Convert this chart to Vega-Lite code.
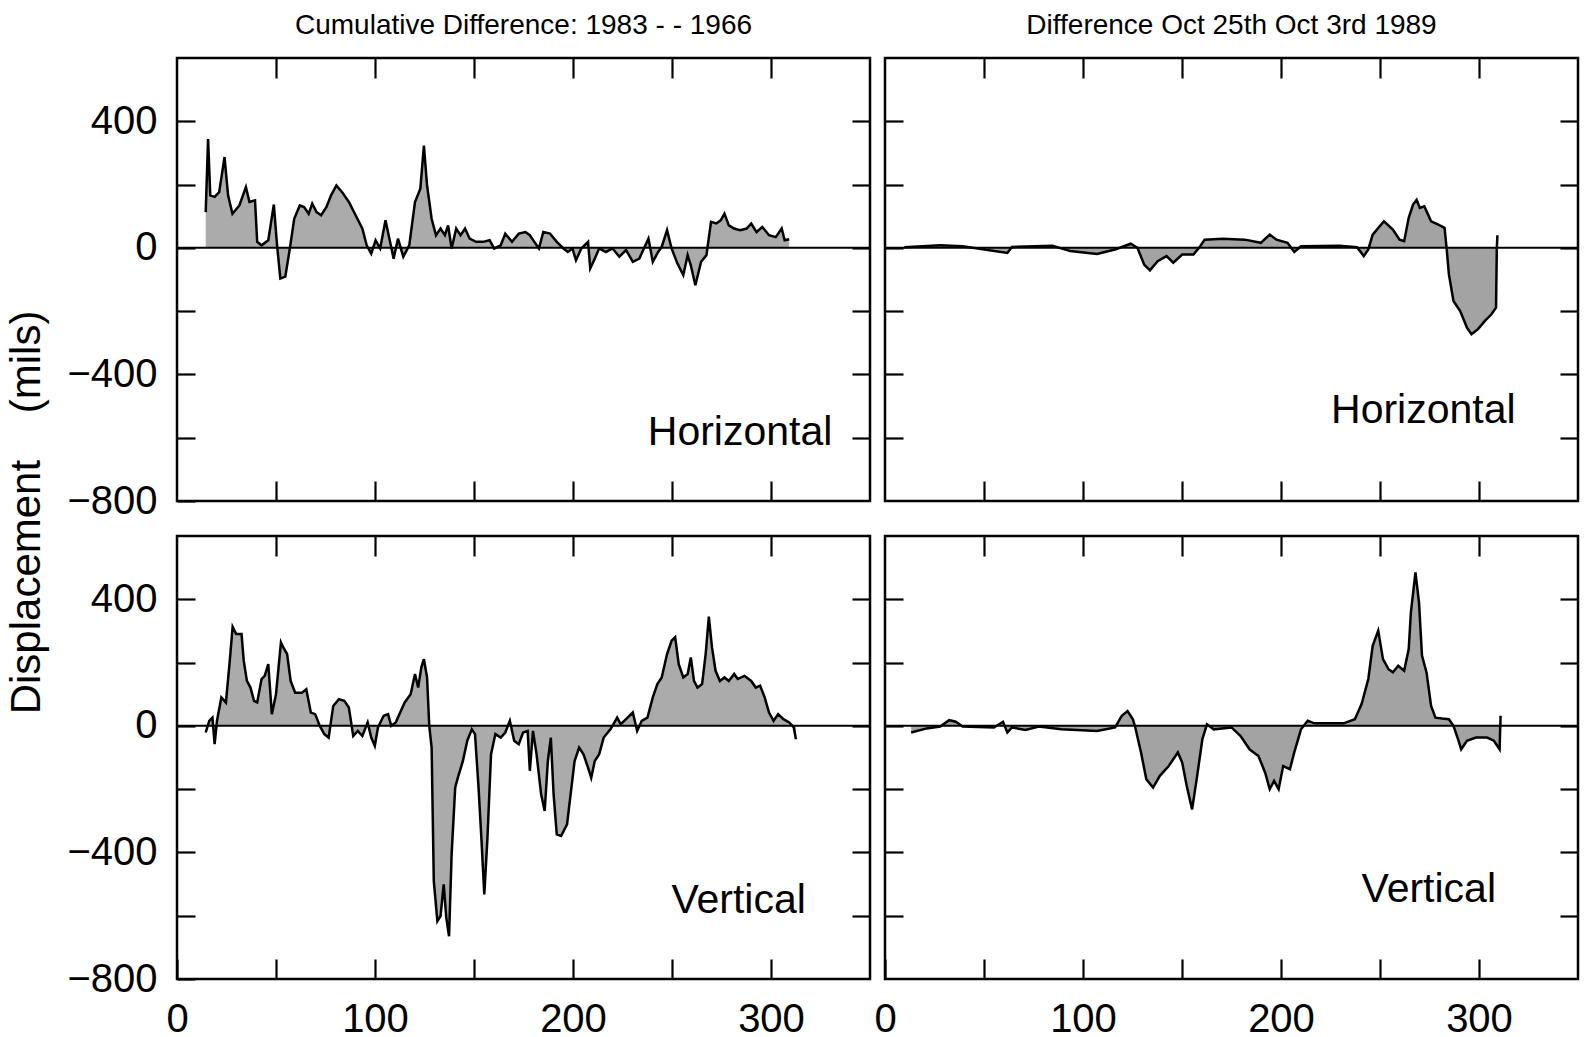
{
  "$schema": "https://vega.github.io/schema/vega-lite/v6.json",
  "background": "white",
  "padding": {"left": 5, "top": 10, "right": 5, "bottom": 2},
  "config": {
    "font": "Liberation Sans",
    "view": {"stroke": "black", "strokeWidth": 2.5},
    "axis": {"grid": false, "domain": false, "tickColor": "black", "tickWidth": 2.2, "labelFont": "Liberation Sans", "labelFontSize": 40, "labelColor": "black", "labelFlush": false, "labelOverlap": false, "labelBound": false, "title": null},
    "title": {"font": "Liberation Sans", "fontSize": 28, "fontWeight": "normal", "color": "black", "baseline": "bottom", "offset": 17}
  },
  "title": {"text": "Displacement\u00a0\u00a0\u00a0\u00a0(mils)", "orient": "left", "anchor": "middle", "fontSize": 42, "offset": 17, "dx": 13},
  "datasets": {
    "ch": [{"x":14.5,"v":113},{"x":15.7,"v":344},{"x":16.8,"v":166},{"x":19,"v":161},{"x":21.3,"v":176},{"x":24,"v":287},{"x":25.8,"v":166},{"x":28,"v":108},{"x":31.5,"v":134},{"x":34.8,"v":192},{"x":36.6,"v":145},{"x":39.4,"v":150},{"x":40.5,"v":19},{"x":42.7,"v":8},{"x":46.1,"v":24},{"x":48.9,"v":137},{"x":50.6,"v":3},{"x":52.2,"v":-97},{"x":54.7,"v":-91},{"x":57,"v":-2},{"x":59.2,"v":92},{"x":62,"v":134},{"x":64.2,"v":129},{"x":66.5,"v":108},{"x":68.3,"v":140},{"x":70.5,"v":113},{"x":72.8,"v":103},{"x":75.5,"v":129},{"x":77.8,"v":166},{"x":80.5,"v":197},{"x":83.4,"v":176},{"x":86.8,"v":145},{"x":90.2,"v":103},{"x":93.6,"v":61},{"x":95.8,"v":8},{"x":98.1,"v":-18},{"x":100.3,"v":24},{"x":102.6,"v":-2},{"x":105.3,"v":87},{"x":107.6,"v":19},{"x":109.4,"v":-34},{"x":111.6,"v":29},{"x":114.3,"v":-28},{"x":117.3,"v":8},{"x":120.2,"v":145},{"x":122.9,"v":187},{"x":124.7,"v":323},{"x":126.3,"v":197},{"x":128.6,"v":92},{"x":130.8,"v":40},{"x":133.1,"v":61},{"x":135.3,"v":40},{"x":136.9,"v":71},{"x":138.7,"v":-2},{"x":141,"v":61},{"x":143.2,"v":40},{"x":145.5,"v":61},{"x":147.8,"v":29},{"x":151.1,"v":19},{"x":154.5,"v":19},{"x":157.9,"v":24},{"x":160.2,"v":-2},{"x":163.5,"v":8},{"x":165.8,"v":45},{"x":169.2,"v":19},{"x":172.6,"v":45},{"x":176,"v":50},{"x":178.2,"v":40},{"x":180.5,"v":19},{"x":182.8,"v":-2},{"x":185,"v":50},{"x":188.4,"v":45},{"x":191.8,"v":19},{"x":195.2,"v":-2},{"x":197.4,"v":-13},{"x":199.7,"v":-2},{"x":201.5,"v":-39},{"x":204.2,"v":-2},{"x":207.6,"v":19},{"x":208.7,"v":-65},{"x":211,"v":-34},{"x":213.2,"v":-2},{"x":216.6,"v":-13},{"x":220,"v":-2},{"x":223.4,"v":-28},{"x":226.8,"v":-7},{"x":230.2,"v":-44},{"x":233.5,"v":-34},{"x":235.8,"v":-2},{"x":238.1,"v":29},{"x":240.3,"v":-44},{"x":243,"v":-13},{"x":244.8,"v":3},{"x":247.5,"v":56},{"x":249.8,"v":-2},{"x":252.7,"v":-49},{"x":255.7,"v":-86},{"x":257.9,"v":-23},{"x":259.5,"v":-55},{"x":261.8,"v":-118},{"x":264.7,"v":-44},{"x":267.4,"v":-23},{"x":269.7,"v":82},{"x":272.4,"v":77},{"x":274.6,"v":87},{"x":276.5,"v":108},{"x":278.7,"v":71},{"x":281.4,"v":61},{"x":284.4,"v":56},{"x":287.7,"v":61},{"x":290,"v":77},{"x":292.7,"v":50},{"x":295.6,"v":66},{"x":299,"v":40},{"x":302.4,"v":34},{"x":305.4,"v":61},{"x":306.9,"v":24},{"x":309.2,"v":27}],
    "cv": [{"x":14.5,"v":-21},{"x":16.3,"v":16},{"x":17.9,"v":26},{"x":19,"v":-58},{"x":20.2,"v":16},{"x":22.4,"v":90},{"x":24.7,"v":74},{"x":26.5,"v":195},{"x":28.1,"v":313},{"x":29.9,"v":290},{"x":32.6,"v":290},{"x":33.7,"v":206},{"x":35.3,"v":142},{"x":37.1,"v":121},{"x":38.9,"v":79},{"x":40.5,"v":74},{"x":42.7,"v":148},{"x":44.3,"v":158},{"x":46.1,"v":195},{"x":47.9,"v":37},{"x":50,"v":100},{"x":52.5,"v":264},{"x":54.1,"v":243},{"x":55.6,"v":227},{"x":57.4,"v":142},{"x":59.7,"v":105},{"x":63.1,"v":105},{"x":65.3,"v":116},{"x":67.6,"v":42},{"x":69.8,"v":37},{"x":72.1,"v":0},{"x":74.4,"v":-26},{"x":76.6,"v":-37},{"x":78.9,"v":63},{"x":81.8,"v":84},{"x":84.5,"v":79},{"x":86.8,"v":58},{"x":89,"v":-32},{"x":91.3,"v":-16},{"x":93.6,"v":-32},{"x":96.3,"v":11},{"x":98.1,"v":-37},{"x":99.9,"v":-63},{"x":101.5,"v":-5},{"x":104.4,"v":32},{"x":106.6,"v":37},{"x":108.2,"v":0},{"x":110.5,"v":11},{"x":112.7,"v":42},{"x":115,"v":74},{"x":118,"v":100},{"x":120.2,"v":164},{"x":121.8,"v":121},{"x":123.4,"v":185},{"x":124.7,"v":211},{"x":126.3,"v":153},{"x":127.4,"v":0},{"x":128.6,"v":-69},{"x":129.7,"v":-491},{"x":131.5,"v":-617},{"x":133.1,"v":-601},{"x":134.7,"v":-501},{"x":136,"v":-606},{"x":137.4,"v":-665},{"x":138.7,"v":-406},{"x":140.5,"v":-195},{"x":142.1,"v":-158},{"x":144.4,"v":-111},{"x":146.6,"v":-47},{"x":148.9,"v":-11},{"x":150.5,"v":-26},{"x":152.3,"v":-195},{"x":153.8,"v":-364},{"x":155.2,"v":-533},{"x":156.8,"v":-353},{"x":158.6,"v":-90},{"x":160.8,"v":-26},{"x":163.5,"v":-37},{"x":165.8,"v":-21},{"x":168.1,"v":16},{"x":170.3,"v":-47},{"x":172.6,"v":-58},{"x":174.8,"v":-21},{"x":177.1,"v":-16},{"x":178.2,"v":-142},{"x":179.8,"v":-16},{"x":181.6,"v":-90},{"x":183.9,"v":-216},{"x":185.7,"v":-269},{"x":187.3,"v":-111},{"x":188.8,"v":-37},{"x":190.2,"v":-216},{"x":191.8,"v":-343},{"x":194,"v":-348},{"x":197,"v":-311},{"x":199.2,"v":-195},{"x":200.8,"v":-111},{"x":203.1,"v":-69},{"x":205.3,"v":-90},{"x":207.6,"v":-132},{"x":209.2,"v":-164},{"x":211,"v":-111},{"x":213.2,"v":-90},{"x":215.5,"v":-37},{"x":218.9,"v":-11},{"x":222.3,"v":26},{"x":224.1,"v":5},{"x":226.8,"v":21},{"x":230.2,"v":42},{"x":232.4,"v":-16},{"x":234.7,"v":16},{"x":237.6,"v":26},{"x":240.3,"v":90},{"x":242.6,"v":132},{"x":244.8,"v":153},{"x":247.5,"v":227},{"x":249.8,"v":269},{"x":251.6,"v":280},{"x":253.4,"v":195},{"x":255.7,"v":153},{"x":257.9,"v":164},{"x":259.5,"v":216},{"x":261.1,"v":142},{"x":262.9,"v":121},{"x":265.2,"v":132},{"x":267,"v":227},{"x":268.6,"v":345},{"x":270.2,"v":248},{"x":272,"v":174},{"x":274.2,"v":142},{"x":276.5,"v":153},{"x":278.7,"v":142},{"x":281.4,"v":164},{"x":283.2,"v":148},{"x":286.6,"v":158},{"x":290,"v":142},{"x":292.3,"v":121},{"x":294.5,"v":127},{"x":296.8,"v":90},{"x":299,"v":42},{"x":301.3,"v":16},{"x":303.6,"v":37},{"x":306.3,"v":21},{"x":309.2,"v":11},{"x":311.5,"v":-5},{"x":312.6,"v":-42}],
    "dh": [{"x":9.8,"v":2},{"x":27.9,"v":8},{"x":39.2,"v":5},{"x":61.8,"v":-16},{"x":64.1,"v":3},{"x":84.5,"v":7},{"x":93.5,"v":-10},{"x":107.1,"v":-19},{"x":116.2,"v":-5},{"x":124.1,"v":13},{"x":127.5,"v":0},{"x":130.9,"v":-53},{"x":133.8,"v":-71},{"x":137.7,"v":-42},{"x":142.2,"v":-26},{"x":145.6,"v":-47},{"x":150.1,"v":-21},{"x":155.8,"v":-21},{"x":159.2,"v":5},{"x":161.4,"v":26},{"x":170.5,"v":29},{"x":181.8,"v":26},{"x":189.8,"v":16},{"x":194.3,"v":42},{"x":197.7,"v":26},{"x":203.3,"v":16},{"x":206.7,"v":-13},{"x":210.1,"v":5},{"x":229.4,"v":7},{"x":238.4,"v":2},{"x":241.8,"v":-26},{"x":244.1,"v":-5},{"x":246.3,"v":42},{"x":252,"v":84},{"x":256.5,"v":58},{"x":259.9,"v":26},{"x":262.2,"v":21},{"x":264.5,"v":95},{"x":266.7,"v":137},{"x":268.5,"v":152},{"x":270.1,"v":126},{"x":272.4,"v":131},{"x":275.8,"v":84},{"x":279.2,"v":74},{"x":282.6,"v":63},{"x":283.7,"v":-5},{"x":284.8,"v":-84},{"x":287.1,"v":-168},{"x":290.5,"v":-200},{"x":293.9,"v":-252},{"x":296.2,"v":-273},{"x":299.5,"v":-257},{"x":303,"v":-231},{"x":306.3,"v":-210},{"x":308.6,"v":-189},{"x":309,"v":0},{"x":309.3,"v":40}],
    "dv": [{"x":13.2,"v":-21},{"x":21.1,"v":-8},{"x":27.9,"v":-2},{"x":32.4,"v":18},{"x":35.8,"v":13},{"x":39.2,"v":-2},{"x":55,"v":-5},{"x":59.6,"v":13},{"x":61.8,"v":-21},{"x":64.1,"v":-5},{"x":70.9,"v":-13},{"x":77.7,"v":-2},{"x":89,"v":-11},{"x":107.1,"v":-16},{"x":116.2,"v":-5},{"x":119.6,"v":32},{"x":122.5,"v":47},{"x":125.2,"v":21},{"x":126.4,"v":-5},{"x":129.3,"v":-84},{"x":132,"v":-169},{"x":135.4,"v":-195},{"x":138.8,"v":-158},{"x":143.3,"v":-127},{"x":147.9,"v":-84},{"x":150.1,"v":-116},{"x":152.4,"v":-190},{"x":155.1,"v":-264},{"x":157.4,"v":-169},{"x":160.3,"v":-42},{"x":162.6,"v":5},{"x":166,"v":-11},{"x":175,"v":-5},{"x":179.6,"v":-32},{"x":184.1,"v":-74},{"x":188.6,"v":-95},{"x":192,"v":-148},{"x":194.3,"v":-200},{"x":196.5,"v":-174},{"x":198.8,"v":-200},{"x":201.1,"v":-127},{"x":204.5,"v":-137},{"x":206.7,"v":-84},{"x":210.1,"v":-11},{"x":213.5,"v":16},{"x":216.9,"v":8},{"x":231.6,"v":8},{"x":237.3,"v":21},{"x":240.7,"v":69},{"x":244.1,"v":148},{"x":246.3,"v":253},{"x":249.1,"v":301},{"x":251.5,"v":211},{"x":254.3,"v":179},{"x":256.5,"v":169},{"x":259.2,"v":190},{"x":262.2,"v":174},{"x":264.5,"v":243},{"x":265.6,"v":359},{"x":267.9,"v":485},{"x":269.7,"v":390},{"x":271.2,"v":222},{"x":273.5,"v":169},{"x":275.8,"v":63},{"x":278,"v":26},{"x":281.4,"v":23},{"x":284.8,"v":21},{"x":287.1,"v":0},{"x":289.4,"v":-42},{"x":291,"v":-74},{"x":293.9,"v":-47},{"x":298.4,"v":-37},{"x":304.1,"v":-37},{"x":307.5,"v":-47},{"x":310.4,"v":-74},{"x":310.9,"v":32}]
  },
  "columns": 2,
  "bounds": "flush",
  "spacing": {"row": 35, "column": 15},
  "concat": [
    {
      "width": 693, "height": 443,
      "title": {"text": "Cumulative Difference: 1983 - - 1966"},
      "data": {"name": "ch"},
      "layer": [
        {"mark": {"type": "area", "color": "#ababab"},
         "encoding": {
           "x": {"field": "x", "type": "quantitative", "scale": {"domain": [0, 350], "nice": false, "zero": false}, "axis": {"orient": "bottom", "values": [50, 100, 150, 200, 250, 300], "labels": false, "tickSize": -20}},
           "y": {"field": "v", "type": "quantitative", "stack": null, "scale": {"domain": [-800, 600], "nice": false}, "axis": {"orient": "left", "values": [-800, -600, -400, -200, 0, 200, 400], "tickSize": -18, "labelPadding": 38, "labelExpr": "datum.value % 400 === 0 ? datum.label : ''"}}
         }},
        {"mark": {"type": "line", "color": "black", "strokeWidth": 2.5},
         "encoding": {
           "x": {"field": "x", "type": "quantitative", "axis": {"orient": "top", "values": [50, 100, 150, 200, 250, 300], "labels": false, "tickSize": -20}},
           "y": {"field": "v", "type": "quantitative", "axis": {"orient": "right", "values": [-600, -400, -200, 0, 200, 400], "labels": false, "tickSize": -18}}
         }},
        {"data": {"values": [{}]}, "mark": {"type": "rule", "color": "black", "strokeWidth": 2}, "encoding": {"y": {"datum": 0, "type": "quantitative", "axis": null}}},
        {"data": {"values": [{"t": "Horizontal"}]}, "mark": {"type": "text", "align": "right", "baseline": "alphabetic", "fontSize": 41, "color": "black"}, "encoding": {"text": {"field": "t"}, "x": {"datum": 331, "type": "quantitative", "axis": null}, "y": {"datum": -624, "type": "quantitative", "axis": null}}}
      ],
      "resolve": {"axis": {"x": "independent", "y": "independent"}}
    },
    {
      "width": 693, "height": 443,
      "title": {"text": "Difference Oct 25th Oct 3rd 1989"},
      "data": {"name": "dh"},
      "layer": [
        {"mark": {"type": "area", "color": "#a3a3a3"},
         "encoding": {
           "x": {"field": "x", "type": "quantitative", "scale": {"domain": [0, 350], "nice": false, "zero": false}, "axis": {"orient": "bottom", "values": [50, 100, 150, 200, 250, 300], "labels": false, "tickSize": -20}},
           "y": {"field": "v", "type": "quantitative", "stack": null, "scale": {"domain": [-800, 600], "nice": false}, "axis": {"orient": "left", "values": [-600, -400, -200, 0, 200, 400], "labels": false, "tickSize": -18}}
         }},
        {"mark": {"type": "line", "color": "black", "strokeWidth": 2.5},
         "encoding": {
           "x": {"field": "x", "type": "quantitative", "axis": {"orient": "top", "values": [50, 100, 150, 200, 250, 300], "labels": false, "tickSize": -20}},
           "y": {"field": "v", "type": "quantitative", "axis": {"orient": "right", "values": [-600, -400, -200, 0, 200, 400], "labels": false, "tickSize": -18}}
         }},
        {"data": {"values": [{}]}, "mark": {"type": "rule", "color": "black", "strokeWidth": 2}, "encoding": {"y": {"datum": 0, "type": "quantitative", "axis": null}}},
        {"data": {"values": [{"t": "Horizontal"}]}, "mark": {"type": "text", "align": "right", "baseline": "alphabetic", "fontSize": 41, "color": "black"}, "encoding": {"text": {"field": "t"}, "x": {"datum": 318.5, "type": "quantitative", "axis": null}, "y": {"datum": -554, "type": "quantitative", "axis": null}}}
      ],
      "resolve": {"axis": {"x": "independent", "y": "independent"}}
    },
    {
      "width": 693, "height": 443,
      "data": {"name": "cv"},
      "layer": [
        {"mark": {"type": "area", "color": "#ababab"},
         "encoding": {
           "x": {"field": "x", "type": "quantitative", "scale": {"domain": [0, 350], "nice": false, "zero": false}, "axis": {"orient": "bottom", "values": [0, 50, 100, 150, 200, 250, 300], "tickSize": -20, "labelPadding": 40, "labelExpr": "datum.value % 100 === 0 ? datum.label : ''"}},
           "y": {"field": "v", "type": "quantitative", "stack": null, "scale": {"domain": [-800, 600], "nice": false}, "axis": {"orient": "left", "values": [-800, -600, -400, -200, 0, 200, 400], "tickSize": -18, "labelPadding": 38, "labelExpr": "datum.value % 400 === 0 ? datum.label : ''"}}
         }},
        {"mark": {"type": "line", "color": "black", "strokeWidth": 2.5},
         "encoding": {
           "x": {"field": "x", "type": "quantitative", "axis": {"orient": "top", "values": [50, 100, 150, 200, 250, 300], "labels": false, "tickSize": -20}},
           "y": {"field": "v", "type": "quantitative", "axis": {"orient": "right", "values": [-600, -400, -200, 0, 200, 400], "labels": false, "tickSize": -18}}
         }},
        {"data": {"values": [{}]}, "mark": {"type": "rule", "color": "black", "strokeWidth": 2}, "encoding": {"y": {"datum": 0, "type": "quantitative", "axis": null}}},
        {"data": {"values": [{"t": "Vertical"}]}, "mark": {"type": "text", "align": "right", "baseline": "alphabetic", "fontSize": 41, "color": "black"}, "encoding": {"text": {"field": "t"}, "x": {"datum": 317.6, "type": "quantitative", "axis": null}, "y": {"datum": -592, "type": "quantitative", "axis": null}}}
      ],
      "resolve": {"axis": {"x": "independent", "y": "independent"}}
    },
    {
      "width": 693, "height": 443,
      "data": {"name": "dv"},
      "layer": [
        {"mark": {"type": "area", "color": "#a3a3a3"},
         "encoding": {
           "x": {"field": "x", "type": "quantitative", "scale": {"domain": [0, 350], "nice": false, "zero": false}, "axis": {"orient": "bottom", "values": [0, 50, 100, 150, 200, 250, 300], "tickSize": -20, "labelPadding": 40, "labelExpr": "datum.value % 100 === 0 ? datum.label : ''"}},
           "y": {"field": "v", "type": "quantitative", "stack": null, "scale": {"domain": [-800, 600], "nice": false}, "axis": {"orient": "left", "values": [-600, -400, -200, 0, 200, 400], "labels": false, "tickSize": -18}}
         }},
        {"mark": {"type": "line", "color": "black", "strokeWidth": 2.5},
         "encoding": {
           "x": {"field": "x", "type": "quantitative", "axis": {"orient": "top", "values": [50, 100, 150, 200, 250, 300], "labels": false, "tickSize": -20}},
           "y": {"field": "v", "type": "quantitative", "axis": {"orient": "right", "values": [-600, -400, -200, 0, 200, 400], "labels": false, "tickSize": -18}}
         }},
        {"data": {"values": [{}]}, "mark": {"type": "rule", "color": "black", "strokeWidth": 2}, "encoding": {"y": {"datum": 0, "type": "quantitative", "axis": null}}},
        {"data": {"values": [{"t": "Vertical"}]}, "mark": {"type": "text", "align": "right", "baseline": "alphabetic", "fontSize": 41, "color": "black"}, "encoding": {"text": {"field": "t"}, "x": {"datum": 308.6, "type": "quantitative", "axis": null}, "y": {"datum": -558, "type": "quantitative", "axis": null}}}
      ],
      "resolve": {"axis": {"x": "independent", "y": "independent"}}
    }
  ]
}
